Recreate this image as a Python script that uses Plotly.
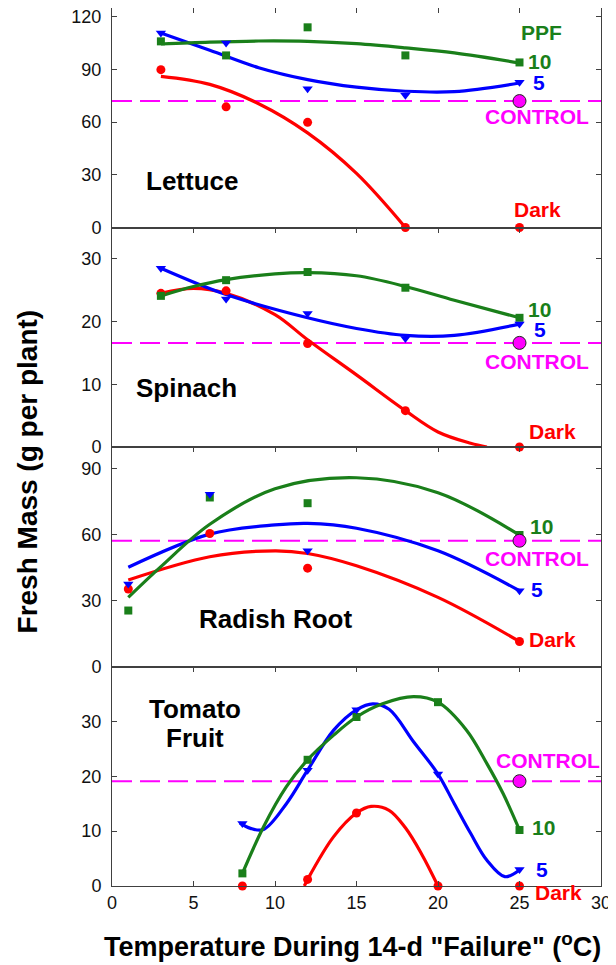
import plotly.graph_objects as go
from plotly.subplots import make_subplots

# ---------------- data ----------------
x_ticks = [0, 5, 10, 15, 20, 25, 30]
x_range = [0, 30]

# Lettuce
lettuce_t = [3, 7, 12, 18, 25]
lettuce_ppf10 = [106, 98, 114, 98, 94]
lettuce_ppf5 = [110.8, 105, 79, 75.3, 82.7]
lettuce_dark = [89.9, 68.7, 59.9, 0, 0]
lettuce_control = 72
lettuce_fit10_x = [3, 6, 9, 12, 15, 18, 21, 25]
lettuce_fit10_y = [104.5, 105.6, 106.2, 106.0, 104.7, 102.3, 99.4, 93.7]
lettuce_fit5_x = [3, 6, 9, 12, 15, 18, 21, 25]
lettuce_fit5_y = [110.8, 101, 91, 84.2, 79.9, 77.6, 77.4, 82.3]
lettuce_fitd_x = [3, 6, 9, 12, 15, 18]
lettuce_fitd_y = [86.1, 81.5, 70.5, 53.9, 30.8, 0]

# Spinach
spinach_t = [3, 7, 12, 18, 25]
spinach_ppf10 = [24.1, 26.6, 27.9, 25.4, 20.6]
spinach_ppf5 = [28.5, 23.6, 21.3, 17.3, 19.6]
spinach_dark = [24.5, 24.9, 16.5, 5.8, 0]
spinach_control = 16.6
spinach_fit10_x = [3, 5, 7, 10, 12, 15, 18, 21, 25]
spinach_fit10_y = [24.1, 25.6, 26.7, 27.6, 27.8, 27.3, 25.6, 23.4, 20.6]
spinach_fit5_x = [3, 7, 12, 15, 18, 21, 25]
spinach_fit5_y = [28.5, 24.3, 20.6, 18.9, 17.8, 17.8, 19.6]
spinach_fitd_x = [3, 5, 7, 10, 12, 15, 18, 20, 22, 23]
spinach_fitd_y = [24.5, 25.3, 24.5, 21.1, 17.1, 11.5, 5.8, 2.4, 0.6, 0]

# Radish root
radish_t = [1, 6, 12, 25]
radish_ppf10 = [25.5, 77, 74.4, 59.9]
radish_ppf5 = [37.6, 78.5, 52.7, 34.5]
radish_dark = [35.3, 60.6, 44.8, 11.4]
radish_control = 57.3
radish_fit10_x = [1, 3, 6, 10, 15, 20, 25]
radish_fit10_y = [31.5, 45.5, 64.8, 81, 86, 79.2, 59.9]
radish_fit5_x = [1, 6, 10, 12, 15, 20, 25]
radish_fit5_y = [45.2, 60.3, 64.5, 65.2, 63, 52.7, 34.5]
radish_fitd_x = [1, 6, 10, 12, 15, 20, 25]
radish_fitd_y = [39.4, 50, 52.7, 51.5, 45.9, 31.5, 11.4]

# Tomato fruit
tomato_t = [8, 12, 15, 20, 25]
tomato_ppf10 = [2.3, 23.0, 30.8, 33.5, 10.2]
tomato_ppf5 = [11.4, 21.1, 32.1, 20.4, 3.0]
tomato_dark = [0, 1.2, 13.3, 0, 0]
tomato_control = 19.1
tomato_fit10_x = [8, 9.3, 10.7, 12, 13.6, 15, 16.6, 18.5, 20, 21.75, 23, 24, 25]
tomato_fit10_y = [2.3, 10.8, 18.1, 23.0, 27.5, 30.8, 33.2, 34.5, 33.5, 28.4, 22.3, 16.8, 10.2]
tomato_fit5_x = [7.84, 8.5, 9.3, 10.7, 12, 13.6, 15, 16, 17, 18.5, 20, 21, 22, 23, 24.1, 25]
tomato_fit5_y = [11.5, 10.5, 10.3, 15, 21.1, 28.4, 32.1, 33.2, 32.2, 26.3, 20.4, 15, 9.6, 4.7, 1.7, 2.9]
tomato_fitd_x = [11.8, 12, 13.6, 15, 15.9, 17, 18, 19, 20]
tomato_fitd_y = [0, 1.2, 9.0, 13.3, 14.5, 13.8, 10.6, 5.8, 0]

control_temp = 25

y_ranges = [[0, 125], [0, 35], [0, 100], [0, 40]]
y_ticks = [[0, 30, 60, 90, 120], [0, 10, 20, 30], [0, 30, 60, 90], [0, 10, 20, 30]]

# ---------------- styling ----------------
FONT = "Liberation Sans, Arial, Helvetica, sans-serif"
GREEN = "#1a7f1a"
BLUE = "#0000ff"
RED = "#ff0000"
MAG = "#ff00ff"
AXC = "#404040"

panels = [
    dict(t=lettuce_t, p10=lettuce_ppf10, p5=lettuce_ppf5, dk=lettuce_dark, ctrl=lettuce_control,
         f10=(lettuce_fit10_x, lettuce_fit10_y), f5=(lettuce_fit5_x, lettuce_fit5_y),
         fd=(lettuce_fitd_x, lettuce_fitd_y)),
    dict(t=spinach_t, p10=spinach_ppf10, p5=spinach_ppf5, dk=spinach_dark, ctrl=spinach_control,
         f10=(spinach_fit10_x, spinach_fit10_y), f5=(spinach_fit5_x, spinach_fit5_y),
         fd=(spinach_fitd_x, spinach_fitd_y)),
    dict(t=radish_t, p10=radish_ppf10, p5=radish_ppf5, dk=radish_dark, ctrl=radish_control,
         f10=(radish_fit10_x, radish_fit10_y), f5=(radish_fit5_x, radish_fit5_y),
         fd=(radish_fitd_x, radish_fitd_y)),
    dict(t=tomato_t, p10=tomato_ppf10, p5=tomato_ppf5, dk=tomato_dark, ctrl=tomato_control,
         f10=(tomato_fit10_x, tomato_fit10_y), f5=(tomato_fit5_x, tomato_fit5_y),
         fd=(tomato_fitd_x, tomato_fitd_y)),
]

fig = make_subplots(rows=4, cols=1, shared_xaxes=True, vertical_spacing=0)

for r, p in enumerate(panels, start=1):
    # control dashed line
    fig.add_trace(go.Scatter(x=x_range, y=[p["ctrl"], p["ctrl"]], mode="lines",
                             line=dict(color=MAG, width=2, dash="20px,8px"),
                             hoverinfo="skip", showlegend=False), row=r, col=1)
    # fitted curves
    for (fx, fy), col in [(p["fd"], RED), (p["f5"], BLUE), (p["f10"], GREEN)]:
        fig.add_trace(go.Scatter(x=fx, y=fy, mode="lines",
                                 line=dict(color=col, width=3.2, shape="spline", smoothing=1.0),
                                 hoverinfo="skip", showlegend=False), row=r, col=1)
    # data markers
    fig.add_trace(go.Scatter(x=p["t"], y=p["dk"], mode="markers", cliponaxis=False,
                             marker=dict(symbol="circle", size=9, color=RED),
                             showlegend=False), row=r, col=1)
    fig.add_trace(go.Scatter(x=p["t"], y=p["p10"], mode="markers", cliponaxis=False,
                             marker=dict(symbol="square", size=8, color=GREEN),
                             showlegend=False), row=r, col=1)
    fig.add_trace(go.Scatter(x=p["t"], y=p["p5"], mode="markers", cliponaxis=False,
                             marker=dict(symbol="triangle-down", size=9, color=BLUE),
                             showlegend=False), row=r, col=1)
    fig.add_trace(go.Scatter(x=[control_temp], y=[p["ctrl"]], mode="markers", cliponaxis=False,
                             marker=dict(symbol="circle", size=13, color=MAG,
                                         line=dict(color="#222222", width=1)),
                             showlegend=False), row=r, col=1)

    fig.update_yaxes(range=y_ranges[r - 1], tickvals=y_ticks[r - 1], ticks="inside", ticklen=5,
                     tickcolor=AXC, mirror="ticks", showline=True, linecolor=AXC, linewidth=1,
                     showgrid=False, zeroline=False, ticklabelstandoff=6, automargin=False,
                     ticklabeloverflow="allow",
                     tickfont=dict(family=FONT, size=18, color="#111111"), row=r, col=1)
    if r < 4:
        fig.update_xaxes(range=x_range, tickvals=x_ticks, ticks="inside", ticklen=5, tickcolor=AXC,
                         side="top", mirror=True, showline=True, linecolor=AXC, linewidth=1,
                         showgrid=False, zeroline=False, showticklabels=False, automargin=False,
                         row=r, col=1)
    else:
        fig.update_xaxes(range=x_range, tickvals=x_ticks, ticks="inside", ticklen=5, tickcolor=AXC,
                         mirror="ticks", showline=True, linecolor=AXC, linewidth=1,
                         showgrid=False, zeroline=False, showticklabels=True, automargin=False,
                         ticklabeloverflow="allow",
                         tickfont=dict(family=FONT, size=18, color="#111111"), row=r, col=1)

# ---------------- text labels ----------------
def lab(r, x, y, text, color, size=21, yshift=0):
    fig.add_annotation(x=x, y=y, text="<b>%s</b>" % text, showarrow=False,
                       font=dict(family=FONT, size=size, color=color), yshift=yshift,
                       xanchor="center", yanchor="middle", row=r, col=1)

# Lettuce
lab(1, 26.35, 110.8, "PPF", GREEN)
lab(1, 26.25, 94.7, "10", GREEN)
lab(1, 26.2, 82.7, "5", BLUE)
lab(1, 26.1, 63, "CONTROL", MAG)
lab(1, 26.1, 10.2, "Dark", RED)
lab(1, 4.9, 26.4, "Lettuce", "#000000", 26)
# Spinach
lab(2, 26.2, 21.9, "10", GREEN)
lab(2, 26.25, 18.7, "5", BLUE)
lab(2, 26.05, 13.6, "CONTROL", MAG)
lab(2, 27.05, 2.4, "Dark", RED)
lab(2, 4.6, 9.4, "Spinach", "#000000", 26)
# Radish
lab(3, 26.35, 63.6, "10", GREEN)
lab(3, 26.05, 49.2, "CONTROL", MAG)
lab(3, 26.1, 34.9, "5", BLUE)
lab(3, 27.05, 12.1, "Dark", RED)
lab(3, 10.0, 21.7, "Radish Root", "#000000", 26)
# Tomato
lab(4, 26.75, 22.8, "CONTROL", MAG)
lab(4, 26.45, 10.6, "10", GREEN)
lab(4, 26.4, 3.0, "5", BLUE)
lab(4, 27.4, 0, "Dark", RED, yshift=-6)
lab(4, 5.1, 32.3, "Tomato", "#000000", 26)
lab(4, 5.1, 26.9, "Fruit", "#000000", 26)

# axis titles
fig.add_annotation(xref="paper", yref="paper", x=-0.172, y=0.472, textangle=-90,
                   text="<b>Fresh Mass (g per plant)</b>", showarrow=False,
                   font=dict(family=FONT, size=28, color="#000000"),
                   xanchor="center", yanchor="middle")
fig.add_annotation(xref="paper", yref="paper", x=0.491, y=-0.0672,
                   text="<b>Temperature During 14-d \"Failure\" (<sup>o</sup>C)</b>", showarrow=False,
                   font=dict(family=FONT, size=27, color="#000000"),
                   xanchor="center", yanchor="middle")

# the page adds an 8px body margin, so the figure is sized to fit the window from (8, 8)
fig.update_layout(width=608, height=957, margin=dict(l=104, r=15, t=0, b=79, autoexpand=False),
                  plot_bgcolor="white", paper_bgcolor="white", showlegend=False,
                  font=dict(family=FONT))

fig.write_html("out.html")
